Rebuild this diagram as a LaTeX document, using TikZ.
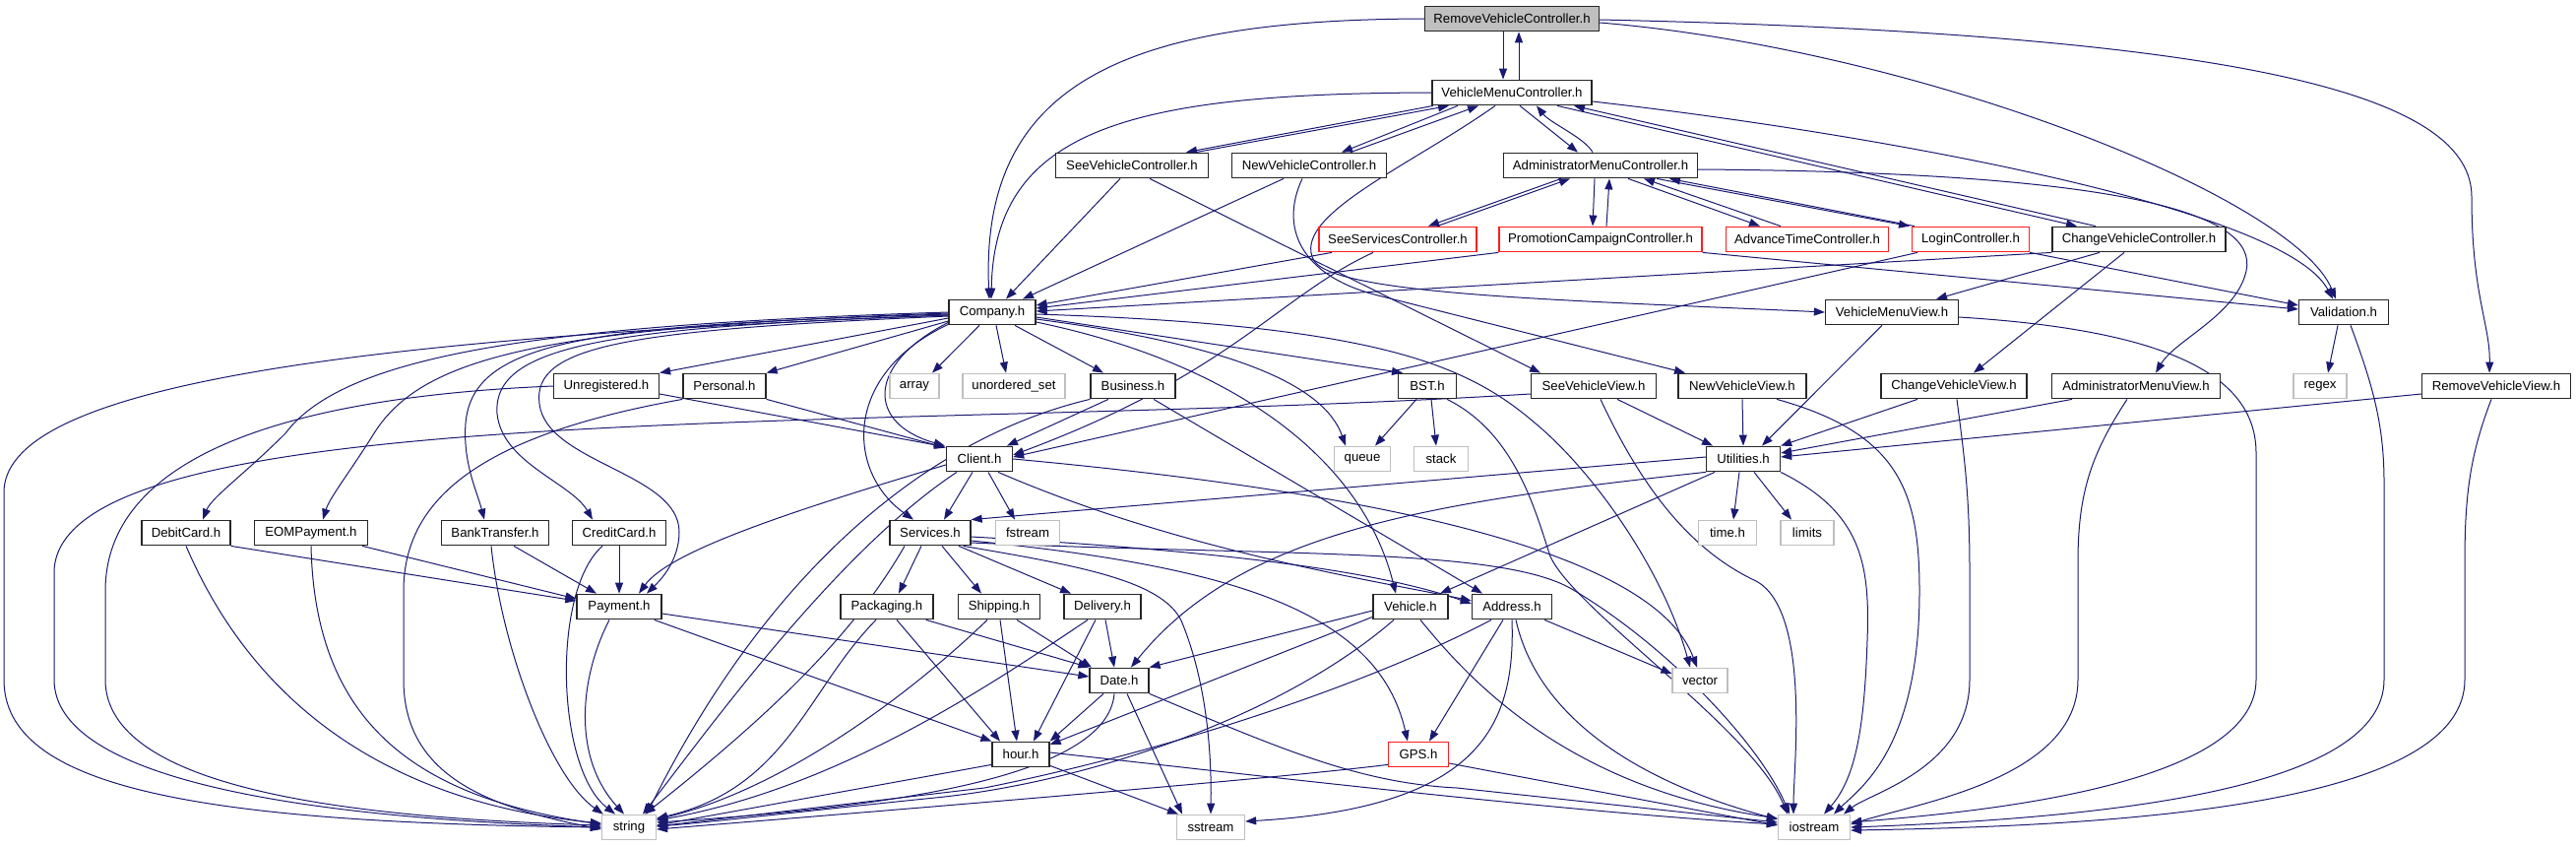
\documentclass[tikz,border=0pt]{standalone}
\usepackage{fontspec}
\setmainfont{Liberation Sans}
\usetikzlibrary{arrows.meta,calc}
\definecolor{edgec}{RGB}{25,25,112}
\definecolor{lgray}{RGB}{191,191,191}
\definecolor{redb}{RGB}{255,30,30}
\pgfdeclarelayer{bg}
\pgfsetlayers{bg,main}
\begin{document}
\begin{tikzpicture}[x=1pt,y=-1pt,
 box/.style={draw=black!85,line width=1.3pt,fill=white,minimum height=25.5pt,inner xsep=1pt,inner ysep=0pt,font=\fontsize{13.2}{15}\selectfont},
 sysbox/.style={box,draw=lgray},
 redbox/.style={box,draw=redb},
 rootbox/.style={box,fill=lgray},
 dep/.style={draw=edgec,line width=1pt,-{Triangle[length=11pt,width=8pt]}}]
\useasboundingbox (0,0) rectangle (2617,859);
% ---------- nodes ----------
\node[rootbox,minimum width=177pt] (rvc) at (1536,19) {RemoveVehicleController.h};
\node[box,minimum width=162pt] (vmc) at (1536,94) {VehicleMenuController.h};
\node[box,minimum width=155pt] (svc) at (1150,168) {SeeVehicleController.h};
\node[box,minimum width=157pt] (nvc) at (1330,168) {NewVehicleController.h};
\node[box,minimum width=197pt] (amc) at (1626,168) {AdministratorMenuController.h};
\node[redbox,minimum width=160pt] (ssc) at (1420,243) {SeeServicesController.h};
\node[redbox,minimum width=206pt] (pcc) at (1626,243) {PromotionCampaignController.h};
\node[redbox,minimum width=165pt] (atc) at (1836,243) {AdvanceTimeController.h};
\node[redbox,minimum width=119pt] (lc) at (2002,243) {LoginController.h};
\node[box,minimum width=176pt] (cvc) at (2173,243) {ChangeVehicleController.h};
\node[box,minimum width=88pt] (company) at (1008,317) {Company.h};
\node[box,minimum width=135pt] (vmv) at (1922,317) {VehicleMenuView.h};
\node[box,minimum width=91pt] (val) at (2381,317) {Validation.h};
\node[box,minimum width=107pt] (unreg) at (616,392) {Unregistered.h};
\node[box,minimum width=84pt] (pers) at (736,392) {Personal.h};
\node[sysbox,minimum width=50pt] (array) at (929,392) {array};
\node[sysbox,minimum width=104pt] (uset) at (1030,392) {unordered\_set};
\node[box,minimum width=86pt] (bus) at (1151,392) {Business.h};
\node[box,minimum width=59pt] (bst) at (1450,392) {BST.h};
\node[box,minimum width=127pt] (svv) at (1619,392) {SeeVehicleView.h};
\node[box,minimum width=130pt] (nvv) at (1770,392) {NewVehicleView.h};
\node[box,minimum width=148pt] (cvv) at (1985,392) {ChangeVehicleView.h};
\node[box,minimum width=171pt] (amv) at (2170,392) {AdministratorMenuView.h};
\node[sysbox,minimum width=54pt] (regex) at (2357,392) {regex};
\node[box,minimum width=151pt] (rvv) at (2536,392) {RemoveVehicleView.h};
\node[box,minimum width=67pt] (client) at (995,466) {Client.h};
\node[sysbox,minimum width=57pt] (queue) at (1384,466) {queue};
\node[sysbox,minimum width=55pt] (stack) at (1464,466) {stack};
\node[box,minimum width=75pt] (util) at (1771,466) {Utilities.h};
\node[box,minimum width=90pt] (debit) at (189,541) {DebitCard.h};
\node[box,minimum width=115pt] (eom) at (316,541) {EOMPayment.h};
\node[box,minimum width=109pt] (bank) at (503,541) {BankTransfer.h};
\node[box,minimum width=95pt] (credit) at (629,541) {CreditCard.h};
\node[box,minimum width=82pt] (serv) at (945,541) {Services.h};
\node[sysbox,minimum width=65pt] (fstream) at (1044,541) {fstream};
\node[sysbox,minimum width=59pt] (timeh) at (1755,541) {time.h};
\node[sysbox,minimum width=54pt] (limits) at (1836,541) {limits};
\node[box,minimum width=86pt] (pay) at (629,616) {Payment.h};
\node[box,minimum width=94pt] (pack) at (901,616) {Packaging.h};
\node[box,minimum width=83pt] (ship) at (1015,616) {Shipping.h};
\node[box,minimum width=78pt] (deliv) at (1120,616) {Delivery.h};
\node[box,minimum width=76pt] (veh) at (1433,616) {Vehicle.h};
\node[box,minimum width=81pt] (addr) at (1536,616) {Address.h};
\node[box,minimum width=60pt] (date) at (1137,691) {Date.h};
\node[sysbox,minimum width=56pt] (vector) at (1727,691) {vector};
\node[box,minimum width=58pt] (hour) at (1037,766) {hour.h};
\node[redbox,minimum width=61pt] (gps) at (1441,766) {GPS.h};
\node[sysbox,minimum width=55pt] (string) at (639,840) {string};
\node[sysbox,minimum width=69pt] (sstream) at (1230,840) {sstream};
\node[sysbox,minimum width=73pt] (iostream) at (1843,840) {iostream};
% ---------- edges ----------
\begin{pgfonlayer}{bg}
% top level
\draw[dep] ($(rvc.south)+(-9,0)$) -- ($(vmc.north)+(-9,0)$);
\draw[dep] ($(vmc.north)+(7,0)$) -- ($(rvc.south)+(7,0)$);
\draw[dep] (rvc.west) .. controls (1150,20) and (995,80) .. ($(company.north)+(-3,0)$);
\draw[dep] (vmc.west) .. controls (1150,95) and (1010,130) .. ($(company.north)+(-1,0)$);
\draw[dep] ($(rvc.east)+(0,1)$) .. controls (2300,35) and (2511,100) .. (2511,200) .. controls (2511,300) and (2530,330) .. ($(rvv.north)+(-7,0)$);
\draw[dep] ($(rvc.east)+(0,4)$) .. controls (1950,50) and (2330,200) .. ($(val.north)+(-8,0)$);
\draw[dep] ($(vmc.east)+(0,9)$) .. controls (1900,135) and (2320,210) .. ($(val.north)+(-11,0)$);
% VMC children
\draw[dep] ($(vmc.south)+(-80,0)$) -- ($(svc.north)+(55,0)$);
\draw[dep] ($(svc.north)+(65,0)$) -- ($(vmc.south)+(-64,0)$);
\draw[dep] ($(vmc.south)+(-55,0)$) -- ($(nvc.north)+(33,0)$);
\draw[dep] ($(nvc.north)+(42,0)$) -- ($(vmc.south)+(-34,0)$);
\draw[dep] ($(vmc.south)+(8,0)$) -- ($(amc.north)+(-23,0)$);
\draw[dep] ($(amc.north)+(-8,0)$) .. controls (1610,140) and (1575,125) .. ($(vmc.south)+(25,0)$);
\draw[dep] ($(vmc.south)+(46,0)$) -- ($(cvc.north)+(-63,0)$);
\draw[dep] ($(cvc.north)+(-44,0)$) -- ($(vmc.south)+(63,0)$);
\draw[dep] ($(vmc.south)+(-17,0)$) .. controls (1430,170) and (1310,220) .. (1335,265) .. controls (1360,300) and (1600,305) .. (vmv.west);
% AMC children
\draw[dep] ($(amc.south)+(-40,0)$) -- ($(ssc.north)+(31,0)$);
\draw[dep] ($(ssc.north)+(40,0)$) -- ($(amc.south)+(-31,0)$);
\draw[dep] ($(amc.south)+(-6,0)$) -- ($(pcc.north)+(-8,0)$);
\draw[dep] ($(pcc.north)+(6,0)$) -- ($(amc.south)+(9,0)$);
\draw[dep] ($(amc.south)+(28,0)$) -- ($(atc.north)+(-48,0)$);
\draw[dep] ($(atc.north)+(-27,0)$) -- ($(amc.south)+(44,0)$);
\draw[dep] ($(amc.south)+(57,0)$) -- ($(lc.north)+(-62,0)$);
\draw[dep] ($(lc.north)+(-57,0)$) -- ($(amc.south)+(70,0)$);
\draw[dep] ($(amc.east)+(0,4)$) .. controls (2150,175) and (2295,215) .. (2282,275) .. controls (2272,320) and (2210,345) .. ($(amv.north)+(20,0)$);
% controllers
\draw[dep] ($(svc.south)+(-12,0)$) -- ($(company.north)+(14,0)$);
\draw[dep] ($(nvc.south)+(-26,0)$) -- ($(company.north)+(31,0)$);
\draw[dep] ($(svc.south)+(18,0)$) -- ($(svv.north)+(-54,0)$);
\draw[dep] ($(nvc.south)+(-7,0)$) .. controls (1300,230) and (1320,280) .. (1400,300) -- ($(nvv.north)+(-58,0)$);
\draw[dep] ($(ssc.south)+(-67,0)$) -- ($(company.east)+(0,-7)$);
\draw[dep] (pcc.south west) -- ($(company.east)+(0,-4)$);
\draw[dep] (cvc.south west) -- ($(company.east)+(0,-1)$);
\draw[dep] ($(ssc.south)+(-25,0)$) .. controls (1300,300) and (1250,380) .. ($(client.east)+(0,-4)$);
\draw[dep] ($(lc.south)+(-54,0)$) -- ($(client.east)+(0,-2)$);
\draw[dep] (pcc.south east) -- ($(val.west)+(0,-3)$);
\draw[dep] (lc.south east) -- ($(val.west)+(0,-7)$);
\draw[dep] ($(cvc.south)+(-40,0)$) -- ($(vmv.north)+(45,0)$);
\draw[dep] ($(cvc.south)+(-15,0)$) -- ($(cvv.north)+(20,0)$);
% Company
\draw[dep] ($(company.south)+(-13,0)$) -- ($(array.north)+(18,0)$);
\draw[dep] ($(company.south)+(4,0)$) -- ($(uset.north)+(-8,0)$);
\draw[dep] ($(company.south)+(23,0)$) -- ($(bus.north)+(-30,0)$);
\draw[dep] ($(company.south west)+(0,-3)$) .. controls (880,370) and (880,430) .. ($(client.north west)+(-1,0)$);
\draw[dep] ($(company.south west)+(0,-1)$) .. controls (855,380) and (860,480) .. ($(serv.north)+(-17,0)$);
\draw[dep] ($(company.west)+(0,6)$) -- (unreg.north east);
\draw[dep] ($(company.west)+(0,9)$) -- (pers.north east);
\draw[dep] ($(company.east)+(0,5)$) -- ($(bst.north)+(-25,0)$);
\draw[dep] ($(company.east)+(0,7)$) .. controls (1250,350) and (1345,390) .. ($(queue.north)+(-17,0)$);
\draw[dep] ($(company.east)+(0,10)$) .. controls (1260,370) and (1385,470) .. ($(veh.north)+(-15,0)$);
\draw[dep] ($(company.east)+(0,2)$) .. controls (1400,330) and (1490,370) .. (1560,430) .. controls (1620,480) and (1690,580) .. ($(vector.north)+(-10,0)$);
\draw[dep] ($(company.west)+(0,3)$) .. controls (300,345) and (4,400) .. (4,500) -- (4,690) .. controls (4,800) and (200,835) .. (string.west);
\draw[dep] (company.west) .. controls (550,330) and (350,360) .. (290,440) .. controls (250,480) and (215,505) .. ($(debit.north)+(17,0)$);
\draw[dep] ($(company.west)+(0,1)$) .. controls (560,332) and (430,360) .. (380,440) .. controls (355,480) and (335,505) .. ($(eom.north)+(12,0)$);
\draw[dep] ($(company.west)+(0,2)$) .. controls (600,330) and (480,345) .. (473,430) .. controls (470,470) and (485,500) .. ($(bank.north)+(-11,0)$);
\draw[dep] ($(company.west)+(0,3)$) .. controls (620,332) and (500,350) .. (505,420) .. controls (510,470) and (580,490) .. ($(credit.north)+(-27,0)$);
\draw[dep] ($(company.west)+(0,4)$) .. controls (640,335) and (540,350) .. (548,410) .. controls (555,470) and (690,480) .. (690,540) .. controls (690,570) and (670,590) .. ($(pay.north)+(28,0)$);
% Client
\draw[dep] ($(client.south)+(-7,0)$) -- ($(serv.north)+(14,0)$);
\draw[dep] ($(client.south)+(9,0)$) -- ($(fstream.north)+(-13,0)$);
\draw[dep] ($(client.west)+(0,6)$) .. controls (800,520) and (680,560) .. ($(pay.north)+(20,0)$);
\draw[dep] ($(client.south)+(-23,0)$) .. controls (850,560) and (720,740) .. ($(string.north)+(14,0)$);
\draw[dep] ($(client.south)+(19,0)$) .. controls (1200,560) and (1400,590) .. ($(addr.west)+(0,-6)$);
\draw[dep] (client.east) .. controls (1400,500) and (1680,560) .. ($(vector.north)+(-3,0)$);
% Business, Unregistered, Personal
\draw[dep] ($(bus.south)+(-25,0)$) -- ($(client.north)+(28,0)$);
\draw[dep] (bus.south west) .. controls (960,440) and (790,560) .. ($(string.north)+(18,0)$);
\draw[dep] ($(bus.south)+(21,0)$) -- ($(addr.north)+(-30,0)$);
\draw[dep] ($(unreg.east)+(0,8)$) -- ($(client.north west)+(-1,1)$);
\draw[dep] (pers.south east) -- ($(client.north west)+(0,2)$);
\draw[dep] (unreg.west) .. controls (250,405) and (107,480) .. (107,600) -- (107,690) .. controls (107,800) and (350,830) .. ($(string.west)+(0,-2)$);
\draw[dep] (pers.south west) .. controls (500,440) and (410,500) .. (410,600) -- (410,690) .. controls (410,790) and (500,820) .. ($(string.west)+(0,2)$);
% views
\draw[dep] ($(svv.west)+(0,8)$) .. controls (900,440) and (60,400) .. (55,580) -- (55,690) .. controls (55,790) and (300,830) .. (string.west);
\draw[dep] ($(svv.south)+(24,0)$) -- ($(util.north)+(-31,0)$);
\draw[dep] ($(svv.south)+(7,0)$) .. controls (1670,500) and (1720,560) .. (1784,590) .. controls (1840,620) and (1822,780) .. ($(iostream.north)+(-21,0)$);
\draw[dep] (nvv.south) -- (util.north);
\draw[dep] ($(nvv.south)+(35,0)$) .. controls (1930,440) and (1950,500) .. (1950,600) .. controls (1950,760) and (1890,800) .. ($(iostream.north)+(20,0)$);
\draw[dep] ($(vmv.south)+(-10,0)$) -- ($(util.north)+(19,0)$);
\draw[dep] ($(vmv.east)+(0,5)$) .. controls (2200,335) and (2292,380) .. (2292,460) -- (2292,690) .. controls (2292,800) and (2000,825) .. ($(iostream.east)+(0,-5)$);
\draw[dep] ($(cvv.south)+(-37,0)$) -- (util.north east);
\draw[dep] ($(cvv.south)+(3,0)$) .. controls (1995,460) and (2001,500) .. (2001,580) -- (2001,690) .. controls (2001,780) and (1900,805) .. ($(iostream.north)+(30,0)$);
\draw[dep] ($(amv.south)+(-65,0)$) -- ($(util.east)+(0,-6)$);
\draw[dep] ($(amv.south)+(-9,0)$) .. controls (2125,460) and (2111,500) .. (2111,570) -- (2111,690) .. controls (2111,790) and (1950,815) .. ($(iostream.east)+(0,-3)$);
\draw[dep] ($(rvv.west)+(0,8)$) -- ($(util.east)+(0,-2)$);
\draw[dep] ($(rvv.south)+(-5,0)$) .. controls (2510,460) and (2504,500) .. (2504,570) -- (2504,690) .. controls (2504,810) and (2200,838) .. ($(iostream.east)+(0,3)$);
\draw[dep] ($(val.south)+(-6,0)$) -- ($(regex.north)+(8,0)$);
\draw[dep] ($(val.south)+(7,0)$) .. controls (2410,390) and (2422,430) .. (2422,490) -- (2422,690) .. controls (2422,800) and (2150,830) .. (iostream.east);
% BST
\draw[dep] ($(bst.south)+(-11,0)$) -- ($(queue.north)+(13,0)$);
\draw[dep] ($(bst.south)+(4,0)$) -- ($(stack.north)+(-5,0)$);
\draw[dep] ($(bst.south)+(20,0)$) .. controls (1540,440) and (1560,520) .. (1575,565) .. controls (1600,620) and (1780,740) .. ($(iostream.north)+(-27,0)$);
% Utilities
\draw[dep] ($(util.south)+(-4,0)$) -- ($(timeh.north)+(6,0)$);
\draw[dep] ($(util.south)+(11,0)$) -- ($(limits.north)+(-16,0)$);
\draw[dep] (util.south east) .. controls (1890,520) and (1900,570) .. (1897,650) .. controls (1894,740) and (1885,790) .. ($(iostream.north)+(10,0)$);
\draw[dep] ($(util.west)+(0,-2)$) -- (serv.north east);
\draw[dep] ($(util.south)+(-29,0)$) -- ($(veh.north)+(30,0)$);
\draw[dep] (util.south west) .. controls (1450,510) and (1260,540) .. ($(date.north)+(12,0)$);
% Services
\draw[dep] ($(serv.south)+(-9,0)$) -- ($(pack.north)+(12,0)$);
\draw[dep] ($(serv.south)+(12,0)$) -- ($(ship.north)+(-18,0)$);
\draw[dep] ($(serv.south)+(29,0)$) -- ($(deliv.north)+(-32,0)$);
\draw[dep] ($(serv.south)+(-26,0)$) .. controls (870,640) and (790,720) .. ($(string.north)+(16,0)$);
\draw[dep] ($(serv.south east)+(-8,0)$) .. controls (1100,575) and (1180,590) .. (1200,630) .. controls (1225,690) and (1231,760) .. (sstream.north);
\draw[dep] ($(serv.east)+(0,4)$) .. controls (1250,560) and (1400,580) .. ($(addr.west)+(0,-3)$);
\draw[dep] ($(serv.east)+(0,8)$) .. controls (1250,575) and (1400,620) .. ($(gps.north)+(-11,0)$);
\draw[dep] ($(serv.east)+(0,10)$) .. controls (1300,565) and (1530,555) .. (1600,600) .. controls (1700,660) and (1790,760) .. ($(iostream.north)+(-25,0)$);
% Packaging, Shipping, Delivery
\draw[dep] ($(pack.south east)+(-8,0)$) -- (date.north west);
\draw[dep] ($(pack.south)+(10,0)$) -- ($(hour.north)+(-21,0)$);
\draw[dep] ($(pack.south)+(-11,0)$) .. controls (820,700) and (800,800) .. ($(string.east)+(0,-9)$);
\draw[dep] ($(ship.south)+(18,0)$) -- ($(date.north)+(-28,0)$);
\draw[dep] ($(ship.south)+(1,0)$) -- ($(hour.north)+(-4,0)$);
\draw[dep] ($(ship.south)+(-12,0)$) .. controls (930,700) and (800,800) .. ($(string.east)+(0,-8)$);
\draw[dep] ($(deliv.south)+(3,0)$) -- ($(date.north)+(-5,0)$);
\draw[dep] ($(deliv.south)+(-7,0)$) -- ($(hour.north)+(13,0)$);
\draw[dep] ($(deliv.south)+(-15,0)$) .. controls (1000,700) and (850,800) .. ($(string.east)+(0,-7)$);
% Date, hour
\draw[dep] ($(date.south)+(-16,0)$) -- (hour.north east);
\draw[dep] ($(date.south)+(-5,0)$) .. controls (1125,790) and (900,820) .. ($(string.east)+(0,-5)$);
\draw[dep] ($(date.south)+(8,0)$) -- ($(sstream.north)+(-29,0)$);
\draw[dep] (date.south east) .. controls (1300,760) and (1380,795) .. (1480,800) -- ($(iostream.west)+(0,-5)$);
\draw[dep] ($(hour.south west)+(0,-3)$) -- ($(string.east)+(0,-2)$);
\draw[dep] ($(hour.south east)+(0,-2)$) -- ($(sstream.north)+(-33,0)$);
\draw[dep] ($(hour.east)+(0,-2)$) .. controls (1300,790) and (1600,825) .. ($(iostream.west)+(0,-3)$);
% Payment and its users
\draw[dep] ($(pay.east)+(0,7)$) -- ($(date.west)+(0,-4)$);
\draw[dep] ($(pay.south east)+(-8,0)$) -- (hour.north west);
\draw[dep] ($(pay.south)+(-10,0)$) .. controls (588,690) and (582,770) .. ($(string.north)+(-5,0)$);
\draw[dep] (debit.south east) -- ($(pay.west)+(0,-6)$);
\draw[dep] ($(eom.south east)+(-6,0)$) -- ($(pay.west)+(0,-8)$);
\draw[dep] ($(bank.south)+(19,0)$) -- ($(pay.north)+(-23,0)$);
\draw[dep] (credit.south) -- (pay.north);
\draw[dep] (debit.south) .. controls (260,720) and (400,815) .. ($(string.west)+(0,-4)$);
\draw[dep] (eom.south) .. controls (320,740) and (430,810) .. ($(string.west)+(0,-3)$);
\draw[dep] ($(bank.south)+(-4,0)$) .. controls (510,660) and (560,790) .. ($(string.north west)+(2,0)$);
\draw[dep] ($(credit.south)+(-17,0)$) .. controls (560,600) and (565,780) .. ($(string.north)+(-14,0)$);
% Vehicle, Address, GPS
\draw[dep] ($(veh.west)+(0,4)$) -- (date.north east);
\draw[dep] ($(veh.south west)+(0,-3)$) -- ($(hour.east)+(0,-10)$);
\draw[dep] ($(veh.south)+(-17,0)$) .. controls (1300,730) and (1100,795) .. (950,810) .. controls (850,820) and (720,835) .. ($(string.east)+(0,-1)$);
\draw[dep] ($(veh.south)+(10,0)$) .. controls (1500,700) and (1600,800) .. ($(iostream.west)+(0,-9)$);
\draw[dep] ($(addr.south)+(-9,0)$) -- ($(gps.north)+(11,0)$);
\draw[dep] ($(addr.south)+(-21,0)$) .. controls (1400,690) and (1200,760) .. (1000,800) -- ($(string.east)+(0,-1)$);
\draw[dep] (addr.south) .. controls (1540,740) and (1500,820) .. ($(sstream.east)+(0,-6)$);
\draw[dep] ($(addr.south)+(4,0)$) .. controls (1560,720) and (1650,790) .. ($(iostream.west)+(0,-8)$);
\draw[dep] ($(addr.south east)+(-8,0)$) -- ($(vector.west)+(0,-7)$);
\draw[dep] ($(gps.south west)+(0,-3)$) .. controls (1300,790) and (1000,815) .. ($(string.east)+(0,2)$);
\draw[dep] ($(gps.east)+(0,9)$) -- ($(iostream.west)+(0,-2)$);
\end{pgfonlayer}
\end{tikzpicture}
\end{document}
